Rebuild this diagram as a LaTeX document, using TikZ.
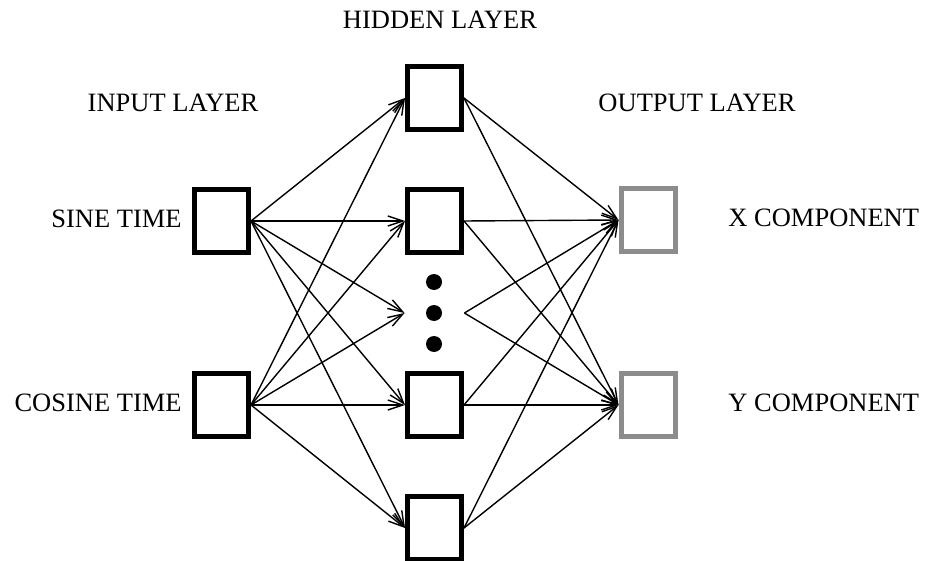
\documentclass[tikz,border=0pt]{standalone}
\usepackage{fontspec}
\setmainfont{Liberation Serif}
\usetikzlibrary{arrows.meta}

\begin{document}
\begin{tikzpicture}[x=0.5pt, y=-0.5pt,
  unit/.style={draw=black, line width=2.5pt, minimum width=27pt,
               minimum height=31.5pt, inner sep=0pt, fill=white},
  outunit/.style={unit, draw=black!45},
  gap/.style={minimum width=29.5pt, minimum height=34pt, inner sep=0pt},
  dot/.style={circle, fill=black, minimum size=8pt, inner sep=0pt},
  lbl/.style={font=\fontsize{13.25pt}{15pt}\selectfont, inner sep=0pt,
              text height=0.662em, text depth=0pt},
  conn/.style={line width=0.7pt, -{Straight Barb[length=7.5pt, width=5pt, line width=0.7pt]}}
]
  \useasboundingbox (0,0) rectangle (925,561);

  % layer titles
  \node[lbl] (thid) at (440,22)  {HIDDEN LAYER};
  \node[lbl] (tin)  at (173,105) {INPUT LAYER};
  \node[lbl] (tout) at (697,105) {OUTPUT LAYER};

  % input units
  \node[unit] (in1) at (221.5,221) {};
  \node[unit] (in2) at (221.5,405) {};
  \node[lbl, anchor=east] (lin1) at (182,221) {SINE TIME};
  \node[lbl, anchor=east] (lin2) at (182,405) {COSINE TIME};

  % hidden units
  \node[unit] (h1) at (434.5,98)  {};
  \node[unit] (h2) at (434.5,221) {};
  \node[gap]  (hd) at (434.5,313) {};
  \node[unit] (h4) at (434.5,405) {};
  \node[unit] (h5) at (434.5,528) {};
  \node[dot] (d1) at (434,282) {};
  \node[dot] (d2) at (434,313) {};
  \node[dot] (d3) at (434,344) {};

  % output units
  \node[outunit] (o1) at (648,220) {};
  \node[outunit] (o2) at (648,405) {};
  \node[lbl, anchor=west] (lo1) at (728,220) {X COMPONENT};
  \node[lbl, anchor=west] (lo2) at (728,405) {Y COMPONENT};

  % full connections between layers
  \foreach \i in {in1,in2}
    \foreach \h in {h1,h2,hd,h4,h5}
      \draw[conn] (\i.east) -- (\h.west);
  \foreach \h in {h1,h2,hd,h4,h5}
    \foreach \o in {o1,o2}
      \draw[conn] (\h.east) -- (\o.west);
\end{tikzpicture}
\end{document}
